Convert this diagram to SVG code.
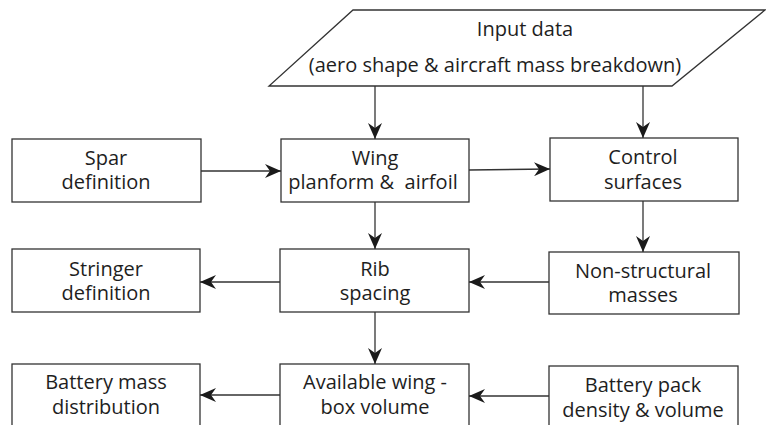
<svg xmlns="http://www.w3.org/2000/svg" width="766" height="425" viewBox="0 0 766 425">
<defs>
<marker id="ah" viewBox="0 0 16 14" refX="16" refY="7" markerWidth="16" markerHeight="14" markerUnits="userSpaceOnUse" orient="auto">
<path d="M0,0 L16,7 L0,14 L5,7 Z" fill="#1a1a1a"/>
</marker>
</defs>
<style>
.box{fill:#fff;stroke:#333;stroke-width:1.3}
.t{font-family:"Open Sans","Liberation Sans",sans-serif;font-size:20px;fill:#1e1e1e;text-anchor:middle}
.c{stroke:#333;stroke-width:1.3;fill:none;marker-end:url(#ah)}
</style>
<rect width="766" height="425" fill="#fff"/>
<g id="input">
<polygon class="box" points="353,10 765,10 672,86 269,86"/>
<text class="t" x="525" y="36" font-size="17.6">Input data</text>
<text class="t" x="495" y="72" font-size="17.6">(aero shape &amp; aircraft mass breakdown)</text>
</g>
<g id="spar">
<rect class="box" x="12" y="139" width="189" height="63"/>
<text class="t" x="106" y="165">Spar</text>
<text class="t" x="106" y="189">definition</text>
</g>
<g id="wing">
<rect class="box" x="281" y="139" width="188" height="63"/>
<text class="t" x="375" y="165">Wing</text>
<text class="t" x="373" y="189" xml:space="preserve">planform &amp;  airfoil</text>
</g>
<g id="control">
<rect class="box" x="550" y="138" width="188" height="63"/>
<text class="t" x="643" y="164">Control</text>
<text class="t" x="643" y="189">surfaces</text>
</g>
<g id="stringer">
<rect class="box" x="12" y="249" width="188" height="63"/>
<text class="t" x="106" y="276">Stringer</text>
<text class="t" x="106" y="300">definition</text>
</g>
<g id="rib">
<rect class="box" x="280" y="249" width="189" height="63"/>
<text class="t" x="375" y="276">Rib</text>
<text class="t" x="375" y="300">spacing</text>
</g>
<g id="nonstructural">
<rect class="box" x="549" y="252" width="190" height="62"/>
<text class="t" x="643" y="278">Non-structural</text>
<text class="t" x="643" y="302">masses</text>
</g>
<g id="batterymass">
<rect class="box" x="12" y="364" width="188" height="70"/>
<text class="t" x="106" y="389">Battery mass</text>
<text class="t" x="106" y="414">distribution</text>
</g>
<g id="available">
<rect class="box" x="280" y="364" width="189" height="70"/>
<text class="t" x="375" y="389">Available wing -</text>
<text class="t" x="375" y="414">box volume</text>
</g>
<g id="batterypack">
<rect class="box" x="549" y="366" width="189" height="70"/>
<text class="t" x="643" y="392">Battery pack</text>
<text class="t" x="643" y="417">density &amp; volume</text>
</g>
<g id="connectors">
<line class="c" x1="375" y1="86" x2="375" y2="139"/>
<line class="c" x1="643" y1="86" x2="643" y2="138"/>
<line class="c" x1="201" y1="171" x2="281" y2="171"/>
<line class="c" x1="469" y1="170" x2="550" y2="169"/>
<line class="c" x1="375" y1="202" x2="375" y2="249"/>
<line class="c" x1="643" y1="201" x2="643" y2="252"/>
<line class="c" x1="280" y1="282" x2="200" y2="282"/>
<line class="c" x1="549" y1="282" x2="469" y2="282"/>
<line class="c" x1="375" y1="312" x2="375" y2="364"/>
<line class="c" x1="280" y1="395" x2="200" y2="395"/>
<line class="c" x1="549" y1="396" x2="469" y2="396"/>
</g>
</svg>
